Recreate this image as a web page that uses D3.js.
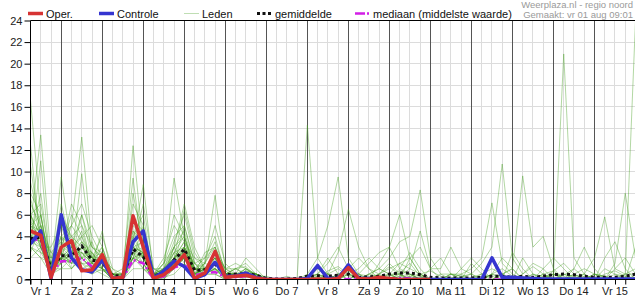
<!DOCTYPE html>
<html>
<head>
<meta charset="utf-8">
<script src="https://cdn.jsdelivr.net/npm/d3@7"></script>
<style>
body { margin: 0; background: #fff; }
svg text { font-family: "Liberation Sans", Arial, sans-serif; }
</style>
</head>
<body>
<div id="chart"></div>
<script>
// one value per 6 hours, starting vr 1 aug 06:00 (mm per 6h)
const dayLabels = ["Vr 1", "Za 2", "Zo 3", "Ma 4", "Di 5", "Wo 6", "Do 7", "Vr 8",
    "Za 9", "Zo 10", "Ma 11", "Di 12", "Wo 13", "Do 14", "Vr 15"];
const yTicks = [0, 2, 4, 6, 8, 10, 12, 14, 16, 18, 20, 22, 24];

const oper = [
    4.5, 4.1, 0.2, 3.0, 3.6, 0.8, 0.9, 2.3, 0.1, 0.2,
    5.9, 3.0, 0.1, 0.45, 1.2, 2.3, 0.1, 0.6, 2.6, 0.2,
    0.3, 0.4, 0.15, 0, 0, 0, 0, 0, 0.05, 0,
    0.1, 1.1, 0.1, 0.05, 0.2, 0.1, 0, 0, 0, 0];

const controle = [
    3.3, 4.5, 0.1, 6.0, 2.0, 0.9, 0.7, 1.8, 0.1, 0.2,
    3.5, 4.5, 0.1, 0.8, 1.7, 1.2, 0.1, 0.45, 1.6, 0.3,
    0.3, 0.6, 0.2, 0, 0, 0, 0, 0.1, 1.3, 0.1,
    0.1, 1.35, 0.1, 0.1, 0, 0, 0, 0, 0, 0,
    0, 0, 0, 0, 0, 2.0, 0.2, 0.2, 0.15, 0.1,
    0.05, 0.05, 0.05, 0.05, 0.05, 0.05, 0.05, 0.05, 0.05, 0.05];

const gemiddelde = [
    3.8, 3.9, 1.0, 2.2, 2.2, 3.1, 1.8, 1.6, 0.35, 0.35,
    2.8, 2.1, 0.35, 0.6, 1.8, 2.8, 0.85, 0.9, 1.4, 0.45,
    0.5, 0.55, 0.4, 0.1, 0.05, 0.05, 0.1, 0.3, 0.35, 0.3,
    0.4, 0.5, 0.2, 0.25, 0.3, 0.5, 0.6, 0.6, 0.45, 0.2,
    0.15, 0.15, 0.15, 0.15, 0.2, 0.3, 0.3, 0.2, 0.3, 0.2,
    0.3, 0.45, 0.5, 0.45, 0.3, 0.2, 0.2, 0.2, 0.3, 0.5];

const mediaan = [
    3.8, 3.6, 0.5, 1.7, 1.7, 2.0, 1.2, 1.7, 0.1, 0.1,
    1.8, 1.5, 0.05, 0.3, 1.1, 1.4, 0.4, 0.6, 0.7, 0.2,
    0.2, 0.3, 0.15, 0, 0, 0, 0, 0, 0, 0,
    0, 0.05, 0, 0, 0, 0.05, 0.15, 0.1, 0, 0,
    0, 0, 0, 0, 0, 0, 0, 0, 0, 0,
    0, 0, 0, 0, 0, 0, 0, 0, 0, 0];

const leden = [
    [16.6, 6, 0.5, 2, 3, 1, 0.5, 2, 0, 0.2,
     3, 1.5, 0, 0.5, 2, 3, 0.5, 1, 0.8, 0.2,
     0.5, 0.3, 0, 0, 0, 0, 0, 0.2, 0.5, 0,
     0.3, 0.8, 0.2, 0, 0.5, 1.2, 0.4, 0, 0, 0,
     0, 0.2, 0, 0, 0, 0.5, 0, 0, 0.3, 0,
     0, 0.8, 1.5, 0.5, 0, 0, 0, 0.2, 0.5, 1],
    [12.5, 3, 1, 1.5, 2.5, 4, 1, 0.8, 0.5, 0,
     2, 4, 0.5, 0.2, 1, 2.5, 1.5, 0.5, 2, 0.3,
     0.2, 0.8, 0.5, 0, 0, 0, 0, 0, 0, 0.5,
     1, 0.3, 0, 0, 0, 0, 0.6, 1.5, 0.3, 0,
     0, 0, 0, 0, 0.3, 0, 0.5, 1, 0, 0,
     0, 0, 0.4, 1, 0.2, 0, 0, 1.5, 8, 2],
    [10.5, 4, 1.5, 3, 1, 2, 3.5, 1, 0, 0.5,
     4, 2, 0.3, 1.5, 3, 1.5, 0.5, 1.5, 1, 0.2,
     0.5, 0.2, 0.5, 0, 0, 0, 0, 0.3, 0.5, 0.2,
     0, 0, 0, 0.5, 0.3, 0, 0, 0, 0.2, 0,
     0, 0, 0.2, 0.5, 0, 0, 0, 0.3, 0, 0,
     0.5, 0.8, 0, 0, 0, 0.5, 0.3, 0, 0, 0.2],
    [5, 13.4, 2, 2.5, 1.5, 3, 2, 2.5, 0.2, 0,
     3, 3.5, 0, 0.5, 2.5, 4, 1, 0.3, 1.5, 0.5,
     1, 0.5, 0.2, 0, 0, 0, 0, 0, 0.5, 2,
     0.5, 0, 0, 0.2, 0.5, 1.5, 0.5, 0, 0, 0,
     0, 0, 0, 0, 0, 0, 0, 0, 0.5, 1.2,
     0.5, 0, 0, 0, 0.3, 0, 0, 0, 0.2, 0],
    [3, 11, 0.5, 4, 2, 1, 1.5, 1, 0.5, 0.2,
     2.5, 1, 0.2, 0, 1, 2, 0.3, 1, 2.5, 1,
     0.3, 0.5, 0.3, 0, 0, 0, 0, 0, 0, 0,
     0, 0.5, 0.2, 0, 0, 0, 0, 0.3, 0.5, 0.8,
     0.3, 0, 0, 0, 0, 0, 0, 0, 0, 0,
     0.3, 0.5, 0, 0, 0, 0, 0, 0, 0.5, 24],
    [2, 3, 1, 9.5, 3, 1.5, 1, 0.5, 0, 0,
     1.5, 2.5, 0.5, 0.2, 0.5, 1.5, 0, 0.5, 0.5, 0,
     0.2, 0.3, 0, 0, 0, 0, 0, 0, 0, 0.8,
     1.2, 0.5, 0, 0, 0, 0.3, 0.8, 0.5, 0, 0,
     0, 0.5, 0.3, 0, 0, 0, 0, 0, 0, 0,
     0, 0, 0.5, 0, 0, 0, 0, 0.5, 0.3, 0],
    [4, 2.5, 2, 2, 5, 13.2, 3, 2, 0.5, 0,
     2, 1.5, 0, 0.3, 1.5, 3, 0.5, 1, 1.5, 0.3,
     0.5, 0.3, 0.2, 0, 0, 0, 0, 0, 0, 0,
     0, 0, 0, 0, 0, 0.5, 1.5, 2, 0.5, 0,
     0, 0, 0, 0, 0, 0.5, 1, 0.3, 0, 0,
     0, 0, 0, 0.2, 0, 0, 0, 0, 0, 0],
    [6, 4, 0.5, 1, 2, 9.8, 2, 1.5, 0, 0.3,
     3, 2, 0.5, 1, 2, 2.5, 1, 0.5, 1, 0.2,
     0.3, 0.8, 0.5, 0, 0, 0, 0, 0, 0, 0,
     0.3, 1, 0.3, 0, 0, 0, 0, 0, 0, 0,
     0, 0, 0.5, 0, 0, 0, 0, 0, 0, 0.5,
     0.3, 0, 0, 0.5, 1, 0.5, 0, 0, 0, 0],
    [4, 5, 1, 3, 2.5, 2, 1, 1.5, 0, 0,
     12.4, 3, 0.5, 0.5, 1, 2, 0, 0.5, 1.5, 0.5,
     1, 1.2, 0.3, 0, 0, 0, 0, 0, 0, 0,
     0, 0, 0, 0, 0, 0.2, 0, 0.5, 0, 0,
     0, 0, 0, 0, 0, 0, 0, 0, 0, 0,
     0, 0, 0, 0, 0, 0, 0.5, 0.8, 0.3, 0],
    [3.5, 3, 0.5, 2, 1.5, 3, 2.5, 1, 0.5, 1,
     9.4, 2, 0, 0.2, 2, 3.5, 2, 1, 2, 0.5,
     0.3, 0.5, 0.5, 0, 0, 0, 0, 0, 0.3, 0.5,
     0, 0, 0, 0.5, 1, 0.5, 0, 0, 0.3, 0,
     0, 0, 0, 0, 0, 0, 0.5, 0, 0, 0,
     0.2, 0.5, 0.3, 0, 0, 0, 0, 0, 0, 0],
    [5, 4.5, 1, 1, 1, 2.5, 1.5, 3, 0, 0,
     3.5, 8.8, 0.5, 0.5, 1.5, 2, 0.5, 1.5, 3.5, 0.8,
     0.2, 0.3, 0.2, 0, 0, 0, 0, 0, 0, 0,
     0, 0.5, 0.3, 0, 0.3, 0.5, 0.5, 0, 0, 0,
     0, 0, 0, 0, 0, 0.5, 0.3, 0, 0, 0,
     0, 0, 0, 0.3, 0.5, 0, 0, 0, 0, 0.4],
    [3, 2, 0.5, 2.5, 3.5, 2, 1, 2, 0.3, 0.3,
     2, 2.5, 0.2, 1, 9.4, 4, 1, 1, 2, 0.5,
     0.5, 0.2, 0.5, 0, 0, 0, 0, 0, 0.2, 0,
     0, 0, 0, 0, 0, 0, 0.3, 1, 0.5, 0,
     0, 0, 0, 0.2, 0.5, 0.3, 0, 0, 0, 0,
     0, 0, 0, 0, 0, 0, 0, 0, 0, 0],
    [4.5, 3.5, 1.5, 1.5, 2, 3.5, 2, 1.5, 0.5, 0,
     2.5, 1.5, 0, 0.5, 1, 3, 0.5, 1.5, 7.8, 1,
     0.5, 1, 0.5, 0.2, 0, 0, 0, 0, 0, 0,
     0.5, 0, 0, 0, 0, 0, 0, 0.3, 0, 0,
     0, 0, 0, 0, 0, 0, 0, 0, 0, 0.5,
     0, 0, 0, 0, 0, 0.5, 0.3, 0, 0, 0],
    [2.5, 5, 0.5, 2, 1.5, 1.5, 1.5, 1, 0, 0.5,
     2, 1, 0.5, 1, 2.5, 2, 0.5, 0.5, 1, 0.5,
     0.3, 0.5, 0.3, 0, 0, 0, 0.2, 14.3, 2, 0.5,
     0, 0, 0.5, 0.3, 0, 0, 0, 0, 0, 0,
     0, 0, 0, 0, 0, 0, 0, 0, 0, 0,
     0, 0.5, 0, 0, 0, 0, 0, 0, 0, 0],
    [4, 3, 0.3, 1.5, 2.5, 4.5, 1.5, 1, 0, 0,
     3, 2.5, 0.3, 0.5, 1.5, 5, 1.5, 0.5, 1.5, 0.2,
     0.5, 0.5, 0, 0, 0, 0, 0, 0.5, 2, 5,
     9.5, 2, 0.5, 0, 0, 0, 0, 0, 0, 0,
     0, 0, 0, 0, 0, 0, 0, 0, 0, 0,
     0, 0, 0, 0, 0, 0, 0, 0, 0, 0],
    [3.5, 4, 1, 2.5, 2, 3, 2, 1.5, 0.5, 0.5,
     1.5, 3, 1, 0.5, 2, 2.5, 0.5, 1, 2, 0.5,
     0.5, 0.3, 0.2, 0, 0, 0, 0, 0, 1, 0.5,
     2.5, 6.5, 3, 1, 0.5, 0, 0, 0, 0, 0,
     0.5, 0.5, 0, 0, 0, 0, 0, 0, 0, 0,
     0, 0, 0, 0, 0, 0.5, 0.2, 0, 0, 0],
    [6, 4, 2.5, 2, 1, 2, 1, 2.5, 0.3, 0,
     2.5, 2, 0, 0.3, 3, 4.5, 1, 1, 1.5, 0.3,
     0.3, 1, 0.3, 0, 0, 0, 0, 0, 0, 0,
     0, 0, 0.5, 1.5, 2.5, 3, 6, 2, 0.5, 0,
     0, 0, 0, 0, 0, 0, 0, 0, 0, 0,
     0.5, 0, 0, 0, 0, 0, 0, 0, 0, 0],
    [4, 4.5, 0.5, 3.5, 2.5, 2.5, 1.5, 1, 0, 0.2,
     4.5, 2, 0.5, 0.3, 1, 2, 0.5, 0.5, 1, 0,
     0.5, 0.5, 0.5, 0, 0, 0, 0, 0, 0, 0,
     0, 0, 0, 0.5, 1, 2, 3.5, 4, 8.3, 2,
     0.5, 0, 0, 0, 0, 0, 0, 0, 0, 0,
     0, 0, 0, 0, 0, 0, 0, 0, 0, 0],
    [3, 2.5, 1, 2, 2.5, 3.5, 1, 2, 0.5, 0.5,
     2, 1.5, 0, 1, 2, 2.5, 1, 0.5, 1.5, 0.5,
     0.5, 0.5, 0.5, 0, 0, 0, 0, 0, 0, 0,
     0.5, 0.5, 0, 0, 0.5, 1, 1.5, 1, 4.5, 1,
     1, 3, 1, 0.5, 0, 0, 0, 0, 0, 0,
     0, 0, 0, 0, 0, 0, 0, 0, 0, 0],
    [5.5, 3, 1, 1.5, 3, 2, 2.5, 1.5, 0, 0,
     3, 2, 0.5, 0.5, 1.5, 3, 1, 1, 2.5, 0.5,
     0.3, 0.5, 0.2, 0, 0, 0, 0, 0, 0, 0,
     0, 0, 0, 0, 0, 0, 0, 0, 0, 0,
     0, 0.5, 0.5, 1, 2, 7.1, 1.5, 0.5, 0, 0,
     0, 0.3, 0.5, 0.3, 0, 0, 0, 0, 0, 0],
    [4, 3.5, 0.5, 2, 2, 2.5, 1, 1.5, 0.2, 0.2,
     2, 2.5, 0, 0.5, 1, 2, 0.5, 1, 1.5, 0.3,
     0.3, 0.5, 0.3, 0, 0, 0, 0, 0, 0.3, 0,
     0, 0, 0, 0, 0, 0.5, 0, 0, 0, 0,
     0, 0.5, 0.3, 0.5, 1.5, 3, 10.7, 2, 0.5, 1.5,
     1, 0, 0, 0, 0, 0, 0, 0, 0, 0],
    [3, 2, 1.5, 3, 2, 1.5, 0.5, 1, 0, 0,
     1, 1, 0, 0, 1.5, 2, 1, 0.5, 0.5, 0,
     0.3, 0, 0, 0, 0, 0, 0, 0, 0, 0,
     0, 0, 0, 0, 0, 0, 0.3, 0.5, 0, 0,
     0, 0, 0, 0, 0, 0, 0.5, 1, 9.6, 3,
     4, 1, 0, 0, 0, 0, 0, 0, 0, 0],
    [4, 3.5, 1, 2, 3, 2.5, 2, 1.5, 0.3, 0,
     3.5, 2, 0.3, 0.5, 1.5, 2.5, 0.5, 0.5, 1.5, 0.5,
     0.5, 0.3, 0.3, 0, 0, 0, 0, 0, 0, 0,
     0, 0, 0, 0, 0, 0, 0, 0, 0.5, 0,
     0, 0, 0, 0, 0, 0, 0, 0, 0, 0,
     0, 0.5, 20.9, 2, 0.5, 0, 0, 0, 0, 0],
    [5, 4, 1, 2.5, 1.5, 3, 1.5, 2, 0, 0.3,
     2.5, 3, 0.5, 0, 2, 3.5, 0.5, 1, 1, 0.3,
     0.5, 0.5, 0, 0, 0, 0, 0, 0, 0, 0,
     0, 0, 0, 0, 0, 0, 0, 0, 0, 0,
     0, 0, 0, 0, 0, 0, 0, 0, 0, 0,
     0, 0, 0, 0, 0.5, 2, 5.8, 1, 0.5, 0.5],
    [7, 5, 2, 4, 3, 6, 3, 2.5, 0.5, 0.5,
     5, 4, 1, 1, 3.5, 6, 2, 1.5, 3, 1,
     1, 1.5, 0.5, 0, 0, 0, 0, 0, 0, 0,
     0, 0.5, 1, 2, 1, 0.5, 0, 0, 0, 0,
     0, 0, 0, 0, 0.5, 1, 0.5, 0, 0, 0,
     0, 0, 0, 1, 3, 1, 0, 0, 0, 0],
    [8, 6, 1, 5, 4, 3, 2, 4, 1, 0,
     6, 3, 0.5, 2, 5, 3.5, 1, 2, 4, 0.5,
     0.5, 2, 1, 0, 0, 0.3, 0, 0, 0, 0,
     0, 0, 0, 0, 0, 0, 1, 2.5, 1, 0,
     0, 0, 0, 0, 0, 0, 0, 0, 2, 0.5,
     0, 0, 0, 0, 0, 0, 0, 1, 2, 0.5],
    [6, 7, 1.5, 3, 6, 4, 2, 3, 0, 0.3,
     7, 5, 0.5, 1.5, 4, 5, 1.5, 1, 2, 0.5,
     1, 0.5, 0.3, 0, 0, 0, 0, 0, 0.5, 1.5,
     3, 1, 0, 0, 0, 0, 0, 0, 0, 0,
     0, 0, 0, 1.5, 0.5, 0, 0, 0, 0, 0,
     0, 0, 0, 0, 0, 0, 0, 0, 0, 0],
    [5, 6, 0.5, 6, 4, 5, 3, 2, 0.3, 0,
     4, 6, 0, 0.5, 2, 6.5, 2.5, 1, 2, 0.3,
     0.3, 1, 0.3, 0, 0, 0, 0, 0, 0, 0,
     0, 0, 0, 0, 0, 0, 0.5, 0, 0, 0,
     0, 0, 1, 2, 1, 0, 0, 0, 0, 0,
     0, 0, 0, 0, 0, 0, 2, 3.5, 1, 0],
    [9, 5, 2.5, 3.5, 5, 7, 4, 2, 0.5, 0.5,
     5.5, 4.5, 0.3, 1, 3, 4, 1, 1.5, 5, 1.5,
     0.5, 0.5, 0.5, 0, 0, 0, 0, 0, 0, 0,
     0, 0, 0, 0, 0, 0, 0, 0, 0, 0,
     0, 0, 0, 0, 0, 0, 0, 2.5, 1, 0,
     0, 0, 0, 0, 0, 0, 0, 0, 0, 0],
    [4, 8, 1, 7, 3, 4, 5, 3, 0.5, 0,
     3, 7, 1, 0.5, 2.5, 3, 0.5, 2.5, 3, 0.5,
     0.5, 0.3, 0.3, 0.3, 0, 0, 0, 0, 0, 0,
     0, 1, 2, 1, 0, 0, 0, 0, 0, 0,
     0, 0, 0, 0, 0, 0, 0, 0, 0, 0,
     0, 0, 0, 0, 0, 0, 0, 0, 0, 0],
    [7.5, 4, 1, 2.5, 7, 5, 1.5, 4.5, 0, 0,
     8, 3, 0.5, 1.5, 6, 4, 0.5, 1, 2.5, 1,
     1.5, 1, 0.5, 0, 0, 0, 0, 0, 0, 0,
     0, 0, 0, 0, 0, 0, 0, 0, 0, 1,
     2, 0.5, 0, 0, 0, 0, 0, 0, 0, 0,
     0, 0, 0, 0, 0, 0, 0, 0, 0, 0],
    [5, 3, 3, 5, 2, 6, 2, 2, 1, 0.5,
     3, 2.5, 0, 0.5, 3, 7, 3, 1, 1.5, 0.5,
     0.5, 0.5, 0.5, 0, 0, 0, 0, 0, 0, 0,
     0, 0, 0, 0, 0, 0, 0, 0, 0, 0,
     0, 0, 0, 0, 0, 0, 0, 0, 0, 0,
     0, 0, 0, 0, 0, 0, 0, 0, 0, 3],
    [3, 6, 0.5, 3, 4, 2, 1, 2.5, 0, 0,
     2, 5, 0.5, 1, 1.5, 2, 1, 0.5, 1, 0,
     0.3, 0.3, 0, 0, 0, 0, 0, 0, 0, 0,
     0.5, 1, 0.5, 0, 1.5, 3, 1, 0.5, 0, 0,
     0, 0, 0, 0, 0, 0.5, 2, 1, 0, 0,
     1, 2, 1, 0, 0, 0, 1, 0.5, 0, 0],
    [6, 3, 1.5, 4, 5, 3.5, 2.5, 1, 0.5, 0.5,
     4.5, 3.5, 0.5, 1, 2, 3, 1.5, 2, 3, 0.5,
     0.5, 0.5, 0.3, 0, 0, 0, 0, 0.3, 1, 0.5,
     0, 0, 0, 0, 0, 0, 0, 2, 3, 1,
     0, 0, 0, 0, 0, 0, 0, 0, 0, 0,
     0, 0, 0, 0.5, 0, 0, 0, 0, 0, 0]
];

const width = 635, height = 300;
const plotLeft = 30.5, plotTop = 20.5, plotBottom = 279.5, plotRight = 635.5;
const nSteps = 59;

const svg = d3.select("#chart").append("svg")
    .attr("width", width)
    .attr("height", height);

const x = d3.scaleLinear().domain([0, nSteps]).range([plotLeft, plotRight]);
const y = d3.scaleLinear().domain([0, 24]).range([plotBottom, plotTop]);

const crisp = v => Math.round(v - 0.5) + 0.5;

// grid
const grid = svg.append("g");
grid.selectAll(".hgrid")
    .data(yTicks.filter(d => d > 0 && d < 24))
    .join("line")
    .attr("x1", plotLeft).attr("x2", plotRight)
    .attr("y1", d => crisp(y(d))).attr("y2", d => crisp(y(d)))
    .attr("stroke", "#dcdcdc");

const steps = d3.range(1, nSteps + 1);
grid.selectAll(".vgrid")
    .data(steps.filter(i => (i - 3) % 4 !== 0))
    .join("line")
    .attr("x1", d => crisp(x(d))).attr("x2", d => crisp(x(d)))
    .attr("y1", plotTop).attr("y2", plotBottom)
    .attr("stroke", "#dcdcdc");

grid.selectAll(".daygrid")
    .data(steps.filter(i => (i - 3) % 4 === 0))
    .join("line")
    .attr("x1", d => crisp(x(d))).attr("x2", d => crisp(x(d)))
    .attr("y1", plotTop).attr("y2", plotBottom)
    .attr("stroke", "#555");

svg.append("clipPath").attr("id", "plot")
    .append("rect")
    .attr("x", plotLeft).attr("y", plotTop)
    .attr("width", plotRight - plotLeft).attr("height", plotBottom - plotTop);

const line = d3.line()
    .x((d, i) => x(i))
    .y(d => y(d));

const plot = svg.append("g").attr("clip-path", "url(#plot)");

plot.selectAll(".lid")
    .data(leden)
    .join("path")
    .attr("d", line)
    .attr("fill", "none")
    .attr("stroke", "#47a024")
    .attr("stroke-opacity", 0.42)
    .attr("stroke-width", 1);

plot.append("path")
    .attr("d", line(mediaan))
    .attr("fill", "none")
    .attr("stroke", "#d21ee6")
    .attr("stroke-width", 2.5)
    .attr("stroke-dasharray", "7,3,2,3");

plot.append("path")
    .attr("d", line(gemiddelde))
    .attr("fill", "none")
    .attr("stroke", "#111")
    .attr("stroke-width", 3)
    .attr("stroke-dasharray", "3,3");

plot.append("path")
    .attr("d", line(controle))
    .attr("fill", "none")
    .attr("stroke", "#3535d0")
    .attr("stroke-width", 3.5)
    .attr("stroke-linejoin", "round");

plot.append("path")
    .attr("d", line(oper))
    .attr("fill", "none")
    .attr("stroke", "#d63333")
    .attr("stroke-width", 3.5)
    .attr("stroke-linejoin", "round");

// axes
const yAxis = d3.axisLeft(y)
    .tickValues(yTicks)
    .tickSize(6)
    .tickPadding(2)
    .tickFormat(d3.format("d"));

svg.append("g")
    .attr("transform", `translate(${plotLeft},0)`)
    .call(yAxis)
    .call(g => g.select(".domain").remove())
    .call(g => g.selectAll("text").attr("font-size", 11).attr("fill", "#222")
        .style("font-family", '"Liberation Sans", Arial, sans-serif'))
    .call(g => g.selectAll("line").attr("stroke", "#000"));

const xAxis = d3.axisBottom(x)
    .tickValues(d3.range(0, nSteps + 1))
    .tickSize(5)
    .tickFormat("");

svg.append("g")
    .attr("transform", `translate(0,${plotBottom})`)
    .call(xAxis)
    .call(g => g.select(".domain").remove())
    .call(g => g.selectAll("line").attr("stroke", "#000"));

svg.append("g").selectAll("text")
    .data(dayLabels)
    .join("text")
    .attr("x", (d, k) => x(1 + 4 * k))
    .attr("y", 295)
    .attr("text-anchor", "middle")
    .attr("font-size", 11)
    .attr("fill", "#222")
    .text(d => d);

// frame
svg.append("line")
    .attr("x1", plotLeft).attr("x2", plotLeft)
    .attr("y1", plotTop).attr("y2", plotBottom + 5)
    .attr("stroke", "#000");
svg.append("line")
    .attr("x1", plotLeft).attr("x2", plotRight)
    .attr("y1", plotTop).attr("y2", plotTop)
    .attr("stroke", "#000");
svg.append("line")
    .attr("x1", plotLeft - 5).attr("x2", plotRight)
    .attr("y1", plotBottom).attr("y2", plotBottom)
    .attr("stroke", "#000");

// legend
const legendItems = [
    {label: "Oper.", x: 28, color: "#d63333", width: 3.5, dash: null, opacity: 1},
    {label: "Controle", x: 99, color: "#3535d0", width: 3.5, dash: null, opacity: 1},
    {label: "Leden", x: 184, color: "#47a024", width: 1, dash: null, opacity: 0.35},
    {label: "gemiddelde", x: 257, color: "#111", width: 3, dash: "3,2.5", opacity: 1},
    {label: "mediaan (middelste waarde)", x: 355, color: "#d21ee6", width: 2.5, dash: "10,2,2,20", opacity: 1}
];

const legend = svg.append("g");
legend.selectAll("line")
    .data(legendItems)
    .join("line")
    .attr("x1", d => d.x).attr("x2", d => d.x + 15)
    .attr("y1", 13.5).attr("y2", 13.5)
    .attr("stroke", d => d.color)
    .attr("stroke-width", d => d.width)
    .attr("stroke-opacity", d => d.opacity)
    .attr("stroke-dasharray", d => d.dash);

legend.selectAll("text")
    .data(legendItems)
    .join("text")
    .attr("x", d => d.x + 18)
    .attr("y", 17.5)
    .attr("font-size", 11)
    .attr("fill", "#111")
    .text(d => d.label);

svg.append("text")
    .attr("x", 633).attr("y", 8)
    .attr("text-anchor", "end")
    .attr("font-size", 9.5)
    .attr("fill", "#9a9a9a")
    .text("Weerplaza.nl - regio noord");

svg.append("text")
    .attr("x", 633).attr("y", 18)
    .attr("text-anchor", "end")
    .attr("font-size", 9.5)
    .attr("fill", "#9a9a9a")
    .text("Gemaakt: vr 01 aug 09:01");
</script>
</body>
</html>
